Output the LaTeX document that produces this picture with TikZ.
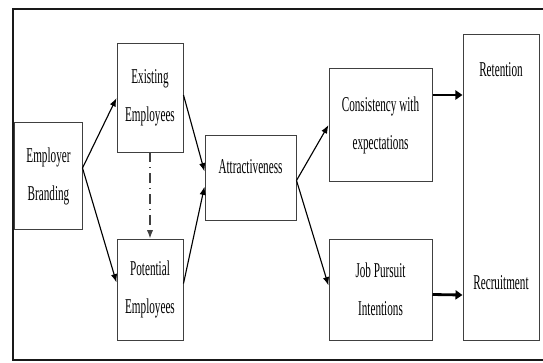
\documentclass[tikz,border=0pt]{standalone}
\usepackage{fontspec}
\setmainfont[FakeStretch=0.53]{Liberation Serif}
\usetikzlibrary{calc,arrows.meta}

\begin{document}
\begin{tikzpicture}[x=0.025cm,y=-0.025cm,
    box/.style={draw=black!75,line width=0.7pt,align=center,inner sep=0pt,
      font=\fontsize{15}{27}\selectfont},
    txt/.style={inner sep=0pt,font=\fontsize{15}{27}\selectfont},
    flow/.style={line width=0.8pt,-{Latex[length=6pt,width=4.5pt]}},
    boldflow/.style={line width=2pt,-{Triangle[length=5pt,width=6.5pt]}}]
        \useasboundingbox (0,0) rectangle (543,362);
        % outer frame
        \draw [line width=1.4pt,black!90] (543,9) -- (13,9) -- (13,360) -- (543,360);
        % boxes
        \node [box,minimum width=1.675cm,minimum height=2.65cm] (brand) at (48.5,176) {Employer\\Branding};
        \node [box,minimum width=1.65cm,minimum height=2.7cm] (exist) at (150,98) {Existing\\Employees};
        \node [box,minimum width=1.65cm,minimum height=2.525cm] (poten) at (150,289.5) {Potential\\Employees};
        \node [box,minimum width=2.275cm,minimum height=2.125cm] (attr) at (250.5,177.5) {};
        \node [txt] (attrtxt) at (250.5,167) {Attractiveness};
        \node [box,minimum width=2.575cm,minimum height=2.8cm] (consis) at (380.5,125) {Consistency with\\expectations};
        \node [box,minimum width=2.575cm,minimum height=2.525cm] (jobp) at (380.5,289.5) {Job Pursuit\\Intentions};
        \node [box,minimum width=1.9cm,minimum height=7.625cm] (outcome) at (501,187.5) {};
        \node [txt] (ret) at (501,70) {Retention};
        \node [txt] (rec) at (501,283) {Recruitment};
        % arrows
        \draw [flow] ($(brand.east)+(0,-8)$) -- (exist.west);
        \draw [flow] ($(brand.east)+(0,-8)$) -- ($(poten.west)+(0,-7)$);
        \draw [flow] ($(exist.east)+(0,-3)$) -- ($(attr.west)+(0,-6)$);
        \draw [flow] ($(poten.east)+(0,-6)$) -- ($(attr.west)+(0,9)$);
        \draw [flow] ($(attr.east)+(0,3)$) -- (consis.west);
        \draw [flow] ($(attr.east)+(0,3)$) -- ($(jobp.west)+(0,-4)$);
        \draw [flow,black!75,dash pattern=on 7pt off 3.5pt on 0.8pt off 3.5pt] (exist.south) -- (poten.north);
        \draw [boldflow] ($(consis.east)+(0,-30)$) -- (outcome.west |- 0,95);
        \draw [boldflow] ($(jobp.east)+(0,5)$) -- (outcome.west |- 0,295);
\end{tikzpicture}
\end{document}
